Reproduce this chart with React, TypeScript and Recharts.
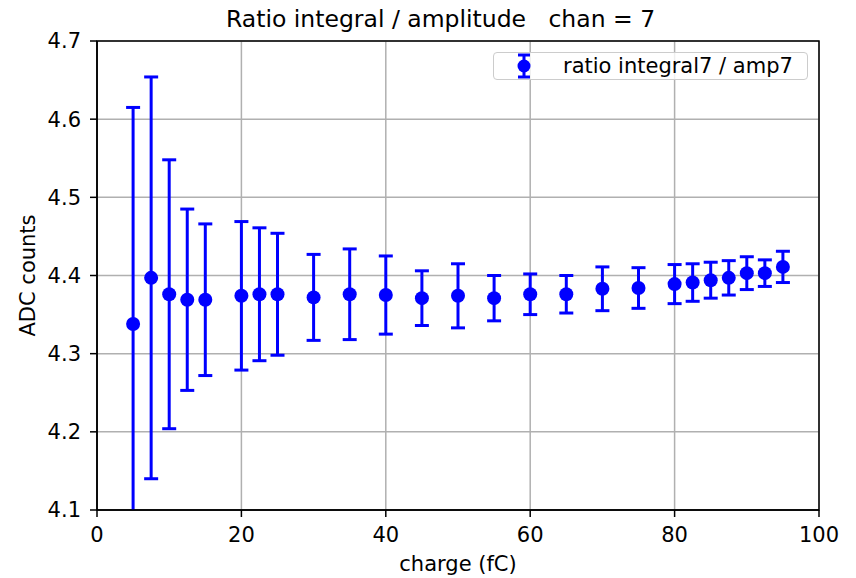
import React from 'react';
import {
  ScatterChart, Scatter, ErrorBar, XAxis, YAxis, CartesianGrid, Legend, ReferenceArea, Label
} from 'recharts';

// charge points (fC)
const charge = [5, 7.5, 10, 12.5, 15, 20, 22.5, 25, 30, 35, 40, 45, 50, 55, 60, 65, 70, 75, 80, 82.5, 85, 87.5, 90, 92.5, 95];
// ratio integral7 / amp7
const ratio = [4.338, 4.397, 4.376, 4.369, 4.369, 4.374, 4.376, 4.376, 4.372, 4.376, 4.375, 4.371, 4.374, 4.371, 4.376, 4.376, 4.383, 4.384, 4.389, 4.391, 4.394, 4.397, 4.403, 4.403, 4.411];
// symmetric errors
const ratioErr = [0.277, 0.257, 0.172, 0.116, 0.097, 0.095, 0.085, 0.078, 0.055, 0.058, 0.05, 0.035, 0.041, 0.029, 0.026, 0.024, 0.028, 0.026, 0.025, 0.024, 0.023, 0.022, 0.021, 0.017, 0.02];

const xTicks = [0, 20, 40, 60, 80, 100];
const yTicks = [4.1, 4.2, 4.3, 4.4, 4.5, 4.6, 4.7];

const seriesName = 'ratio integral7 / amp7';
const titleText = 'Ratio integral / amplitude   chan = 7';

const FONT = '"DejaVu Sans", sans-serif';
const BLUE = '#0000ff';

const data = charge.map((x, i) => ({ x, y: ratio[i], err: ratioErr[i] }));

const LegendBox = () => (
  <div style={{
    width: 313, height: 26, border: '1px solid #cccccc', borderRadius: 4,
    background: 'rgba(255,255,255,0.8)', position: 'relative', fontFamily: FONT, fontSize: 21, color: '#000'
  }}>
    <svg width={30} height={28} style={{ position: 'absolute', left: 15, top: -1 }}>
      <line x1={15} y1={3} x2={15} y2={25} stroke={BLUE} strokeWidth={3} />
      <line x1={9} y1={3} x2={21} y2={3} stroke={BLUE} strokeWidth={3} />
      <line x1={9} y1={25} x2={21} y2={25} stroke={BLUE} strokeWidth={3} />
      <circle cx={15} cy={14} r={6.5} fill={BLUE} />
    </svg>
    <span style={{ position: 'absolute', left: 69, top: 0, lineHeight: '26px', whiteSpace: 'pre' }}>{seriesName}</span>
  </div>
);

const App: React.FC = () => {
  return (
    <div style={{ position: 'absolute', left: 0, top: 0, width: 856, height: 578, background: '#fff' }}>
      {/* clip region for the error bars (plot area) */}
      <svg width={0} height={0} style={{ position: 'absolute' }}>
        <defs>
          <clipPath id="plotAreaClip">
            <rect x={97} y={41} width={722} height={469} />
          </clipPath>
        </defs>
      </svg>
      <div style={{
        position: 'absolute', left: 226, top: 5, fontFamily: FONT, fontSize: 23.5,
        whiteSpace: 'pre', color: '#000', lineHeight: '28px'
      }}>
        {titleText}
      </div>
      <ScatterChart width={856} height={578} margin={{ top: 41, right: 37, bottom: 0, left: 0 }}>
        <CartesianGrid stroke="#b0b0b0" strokeWidth={1.5} />
        <XAxis
          type="number" dataKey="x" domain={[0, 100]} ticks={xTicks} height={68}
          tickSize={7} tickMargin={10} allowDataOverflow
          stroke="#000" strokeWidth={1.5}
          tick={{ fill: '#000', fontSize: 21, fontFamily: FONT }}
        >
          <Label
            content={({ viewBox }: any) => (
              <text x={viewBox.x + viewBox.width / 2} y={571} textAnchor="middle"
                fontFamily={FONT} fontSize={21} fill="#000">charge (fC)</text>
            )}
          />
        </XAxis>
        <YAxis
          type="number" dataKey="y" domain={[4.1, 4.7]} ticks={yTicks} width={97}
          tickSize={7} tickMargin={9} allowDataOverflow
          tickFormatter={(v: number) => v.toFixed(1)}
          stroke="#000" strokeWidth={1.5}
          tick={{ fill: '#000', fontSize: 21, fontFamily: FONT }}
        >
          <Label
            content={({ viewBox }: any) => {
              const cy = viewBox.y + viewBox.height / 2;
              return (
                <text x={35} y={cy} transform={`rotate(-90 35 ${cy})`} textAnchor="middle"
                  fontFamily={FONT} fontSize={21} fill="#000">ADC counts</text>
              );
            }}
          />
        </YAxis>
        <Legend
          layout="vertical" align="center" verticalAlign="middle"
          wrapperStyle={{ left: 493, top: 52, width: 315 }}
          content={() => <LegendBox />}
        />
        <Scatter
          name={seriesName} data={data} fill={BLUE} isAnimationActive={false}
          shape={(p: any) => <circle cx={p.cx} cy={p.cy} r={7} fill={BLUE} />}
        >
          <ErrorBar dataKey="err" direction="y" width={7} stroke={BLUE} strokeWidth={3}
            clipPath="url(#plotAreaClip)" isAnimationActive={false} />
        </Scatter>
        <ReferenceArea x1={0} x2={100} y1={4.1} y2={4.7} fill="none" stroke="#000" strokeWidth={1.5} ifOverflow="visible" />
      </ScatterChart>
    </div>
  );
};

export default App;
